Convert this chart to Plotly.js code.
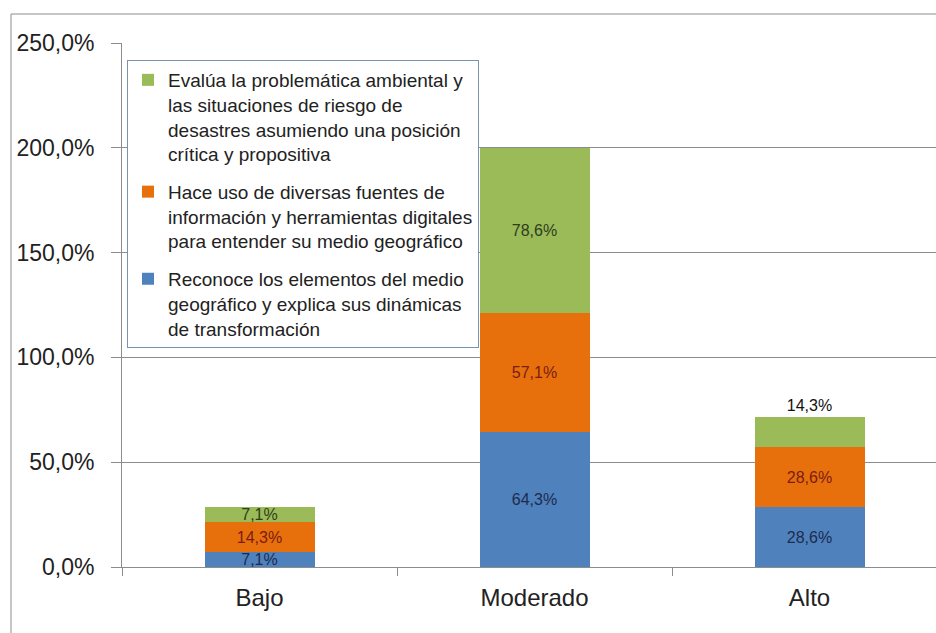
<!DOCTYPE html>
<html>
<head>
<meta charset="utf-8">
<script src="https://cdn.plot.ly/plotly-3.0.1.min.js"></script>
<style>html,body{margin:0;padding:0;background:#fff;}#chart{width:936px;height:633px;}</style>
</head>
<body>
<div id="chart"></div>
<script>
var categories = ['Bajo', 'Moderado', 'Alto'];
var reconoce = [7.1, 64.3, 28.6];
var haceUso = [14.3, 57.1, 28.6];
var evalua = [7.1, 78.6, 14.3];
var seriesNames = [
  'Reconoce los elementos del medio<br>geográfico y explica sus dinámicas<br>de transformación',
  'Hace uso de diversas fuentes de<br>información y herramientas digitales<br>para entender su medio geográfico',
  'Evalúa la problemática ambiental y<br>las situaciones de riesgo de<br>desastres asumiendo una posición<br>crítica y propositiva'
];
var yTicks = [0, 50, 100, 150, 200, 250];

function fmt(v) { return v.toFixed(1).replace('.', ',') + '%'; }

var FONT = 'Liberation Sans, Arial, sans-serif';
var colors = ['#4F81BD', '#E8700C', '#9BBB59'];
var labelColors = ['#1d2b4f', '#7a1c12', '#2e3d1c'];

function mk(vals, i, pos, tcol) {
  return {
    type: 'bar', x: categories, y: vals, name: seriesNames[i],
    legendgroup: 'g' + i,
    legendrank: 3 - i,
    marker: {color: colors[i], line: {width: 0}},
    text: vals.map(fmt),
    textposition: pos || 'inside',
    insidetextanchor: 'middle',
    constraintext: 'none',
    textangle: 0,
    textfont: {family: FONT, size: 16, color: tcol || labelColors[i]},
    width: 0.4,
    hoverinfo: 'x+y+name'
  };
}

var traces = [
  mk(reconoce, 0),
  mk(haceUso, 1),
  mk(evalua, 2, ['inside', 'inside', 'outside'], [labelColors[2], labelColors[2], '#111'])
];

var L = 122, T = 43, W = 814, H = 524;
function px2x(p) { return (p - L) / W; }
function px2y(p) { return (T + H - p) / H; }

var layout = {
  width: 936, height: 633,
  margin: {l: L, r: 0, t: T, b: 633 - T - H, pad: 0},
  paper_bgcolor: '#fff', plot_bgcolor: '#fff',
  separators: ',.',
  barmode: 'stack',
  showlegend: true,
  font: {family: FONT, color: '#222'},
  xaxis: {
    type: 'category', range: [-0.5, 2.46],
    showgrid: false, zeroline: false,
    showline: true, linecolor: '#8c8c8c', linewidth: 1,
    ticks: 'outside', tickson: 'boundaries', ticklen: 8, tickcolor: '#8c8c8c',
    tickfont: {family: FONT, size: 24, color: '#222'},
    ticklabelstandoff: 9
  },
  yaxis: {
    range: [0, 250], tickmode: 'array', tickvals: yTicks, ticktext: yTicks.map(fmt),
    showgrid: true, gridcolor: '#8c8c8c', gridwidth: 1,
    zeroline: false,
    showline: true, linecolor: '#8c8c8c', linewidth: 1,
    ticks: 'outside', ticklen: 10, tickcolor: '#8c8c8c',
    tickfont: {family: FONT, size: 23, color: '#222'},
    ticklabelstandoff: 12
  },
  legend: {
    x: px2x(127), y: px2y(60), xanchor: 'left', yanchor: 'top',
    bgcolor: '#fff', bordercolor: '#7a94b0', borderwidth: 1,
    traceorder: 'grouped', tracegroupgap: 10,
    valign: 'top',
    font: {family: FONT, size: 19, color: '#222'}
  },
  shapes: [{
    type: 'rect', xref: 'paper', yref: 'paper',
    x0: px2x(11), x1: 1.05, y0: px2y(640), y1: px2y(14),
    line: {color: '#8c8c8c', width: 1}, fillcolor: 'rgba(0,0,0,0)', layer: 'below'
  }]
};

Plotly.newPlot('chart', traces, layout, {displayModeBar: false, staticPlot: true});
</script>
</body>
</html>
